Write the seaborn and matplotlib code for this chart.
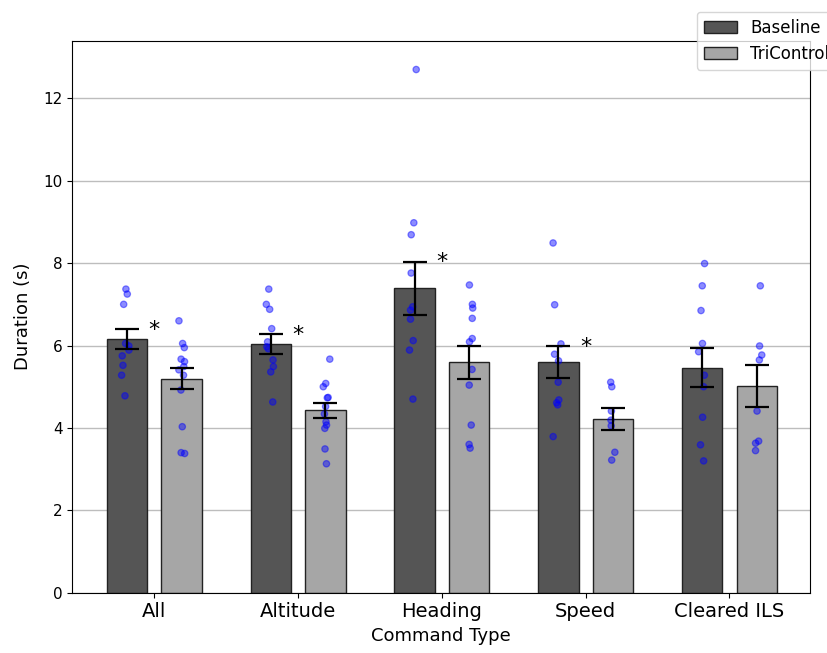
import numpy as np
import pandas as pd
import matplotlib
matplotlib.use("Agg")
import matplotlib.pyplot as plt
from matplotlib.patches import Patch
import seaborn as sns

categories = ["All", "Altitude", "Heading", "Speed", "Cleared ILS"]
conditions = ["Baseline", "TriControl"]

baseline_mean = [6.16, 6.04, 7.39, 5.60, 5.46]
tricontrol_mean = [5.20, 4.43, 5.60, 4.22, 5.02]
baseline_sem = [0.24, 0.235, 0.65, 0.39, 0.475]
tricontrol_sem = [0.25, 0.18, 0.40, 0.27, 0.51]
significant = [True, True, True, True, False]

baseline_points = [
    [7.37, 7.25, 7.0, 6.05, 5.99, 5.89, 5.75, 5.52, 5.28, 4.78],
    [7.37, 7.0, 6.88, 6.41, 6.09, 5.97, 5.92, 5.65, 5.49, 5.36, 4.63],
    [12.7, 8.98, 8.69, 7.76, 6.94, 6.86, 6.64, 6.12, 5.89, 4.70],
    [8.49, 6.99, 6.04, 5.79, 5.63, 5.11, 4.68, 4.61, 4.56, 3.79],
    [7.99, 7.45, 6.85, 6.05, 5.85, 5.28, 5.00, 4.26, 3.59, 3.20],
]
tricontrol_points = [
    [6.60, 6.05, 5.95, 5.67, 5.61, 5.49, 5.41, 5.28, 4.92, 4.03, 3.40, 3.38],
    [5.67, 5.08, 5.00, 4.74, 4.73, 4.52, 4.34, 4.15, 4.07, 3.99, 3.49, 3.13],
    [7.47, 7.00, 6.91, 6.66, 6.17, 6.09, 5.42, 5.04, 4.07, 3.60, 3.51],
    [5.11, 5.00, 4.41, 4.19, 4.05, 3.41, 3.22],
    [7.45, 5.99, 5.77, 5.65, 4.41, 3.68, 3.63, 3.45],
]

bar_colors = {"Baseline": "#555555", "TriControl": "#a6a6a6"}

# tables built from the lists above
means_df = pd.DataFrame({
    "Command Type": categories * 2,
    "Condition": ["Baseline"] * 5 + ["TriControl"] * 5,
    "Duration": baseline_mean + tricontrol_mean,
})
rows = []
for cat, pts in zip(categories, baseline_points):
    rows += [(cat, "Baseline", v) for v in pts]
for cat, pts in zip(categories, tricontrol_points):
    rows += [(cat, "TriControl", v) for v in pts]
points_df = pd.DataFrame(rows, columns=["Command Type", "Condition", "Duration"])

np.random.seed(3)
fig = plt.figure(figsize=(8.27, 6.53), dpi=100)
ax = fig.add_axes([0.0874, 0.0923, 0.9794 - 0.0874, 0.9377 - 0.0923])

sns.barplot(data=means_df, x="Command Type", y="Duration", hue="Condition",
            order=categories, hue_order=conditions, palette=bar_colors,
            errorbar=None, width=0.76, gap=0.26, edgecolor="#222222",
            linewidth=1.0, saturation=1, legend=False, ax=ax, zorder=2)

sems = {"Baseline": baseline_sem, "TriControl": tricontrol_sem}
for cont, cond in zip(ax.containers, conditions):
    xs = [p.get_x() + p.get_width() / 2 for p in cont.patches]
    hs = [p.get_height() for p in cont.patches]
    ax.errorbar(xs, hs, yerr=sems[cond], fmt="none", ecolor="black",
                elinewidth=1.6, capsize=8.5, capthick=1.6, zorder=5)

sns.stripplot(data=points_df, x="Command Type", y="Duration", hue="Condition",
              order=categories, hue_order=conditions,
              palette={"Baseline": "blue", "TriControl": "blue"},
              dodge=True, jitter=0.06, size=4.6, alpha=0.45,
              edgecolor="blue", linewidth=0.9, legend=False, ax=ax, zorder=4)

for i, (sig, m, s) in enumerate(zip(significant, baseline_mean, baseline_sem)):
    if sig:
        ax.text(i, m + s - 0.02, "*", ha="center", va="center", fontsize=16, zorder=6)

ax.set_xlim(-0.57, 4.56)
ax.set_ylim(0, 13.4)
ax.set_yticks(range(0, 13, 2))
ax.yaxis.grid(True, color="#bdbdbd", linewidth=1.0)
ax.xaxis.grid(False)
ax.set_axisbelow(True)
ax.tick_params(axis="x", labelsize=14)
ax.tick_params(axis="y", labelsize=11)
ax.set_xlabel("Command Type", fontsize=13)
ax.set_ylabel("Duration (s)", fontsize=13, labelpad=8)
for sp in ax.spines.values():
    sp.set_visible(True)
    sp.set_color("black")

handles = [Patch(facecolor=bar_colors[c], edgecolor="#222222", label=c) for c in conditions]
ax.legend(handles=handles, loc="upper left", bbox_to_anchor=(0.843, 0.9816),
          bbox_transform=fig.transFigure, borderaxespad=0, fontsize=12)

fig.savefig("out.png", dpi=100)
